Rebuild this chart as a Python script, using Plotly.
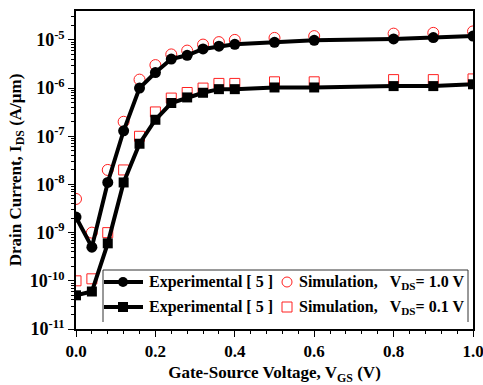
import plotly.graph_objects as go

vgs = [0.0, 0.04, 0.08, 0.12, 0.16, 0.2, 0.24, 0.28, 0.32, 0.36, 0.4, 0.5, 0.6, 0.8, 0.9, 1.0]

exp_vds10 = [2.1e-9, 5e-10, 1.1e-8, 1.3e-7, 1.0e-6, 2.1e-6, 4.0e-6, 4.8e-6, 6.5e-6, 7.4e-6,
             8.1e-6, 8.9e-6, 9.8e-6, 1.05e-5, 1.12e-5, 1.2e-5]
sim_vds10 = [5e-9, 1e-9, 2e-8, 2e-7, 1.5e-6, 3e-6, 5e-6, 6e-6, 8e-6, 9e-6,
             1e-5, 1.1e-5, 1.2e-5, 1.35e-5, 1.4e-5, 1.5e-5]
exp_vds01 = [5e-11, 6e-11, 6e-10, 1.1e-8, 7e-8, 2.2e-7, 4.9e-7, 6.4e-7, 8e-7, 9.5e-7,
             9.5e-7, 1.03e-6, 1.03e-6, 1.1e-6, 1.1e-6, 1.2e-6]
sim_vds01 = [1e-10, 1.1e-10, 1e-9, 2e-8, 1e-7, 3.2e-7, 6.2e-7, 8.1e-7, 1e-6, 1.25e-6,
             1.25e-6, 1.35e-6, 1.35e-6, 1.5e-6, 1.5e-6, 1.55e-6]

ytick_vals = [1e-11, 1e-10, 1e-9, 1e-8, 1e-7, 1e-6, 1e-5]
ytick_text = ["10<sup>-11</sup>", "10<sup>-10</sup>", "10<sup>-9</sup>", "10<sup>-8</sup>",
              "10<sup>-7</sup>", "10<sup>-6</sup>", "10<sup>-5</sup>"]

legend_exp = "Experimental [ 5 ]"
legend_sim = ["Simulation,&nbsp;&nbsp;&nbsp;V<sub>DS</sub>= 1.0 V",
              "Simulation,&nbsp;&nbsp;&nbsp;V<sub>DS</sub>= 0.1 V"]

W, H = 483, 385
ML, MR, MT, MB = 76, 10, 11, 56
PW, PH = W - ML - MR, H - MT - MB
FONT = "Liberation Serif"


def px(x):
    return (x - ML) / PW


def py(y):
    return (H - MB - y) / PH


fig = go.Figure()

fig.add_trace(go.Scatter(x=vgs, y=sim_vds10, mode="markers",
                         marker=dict(symbol="circle-open", size=11, color="#ff2020",
                                     line=dict(width=1))))
fig.add_trace(go.Scatter(x=vgs, y=sim_vds01, mode="markers",
                         marker=dict(symbol="square-open", size=10, color="#ff2020",
                                     line=dict(width=1))))
fig.add_trace(go.Scatter(x=vgs, y=exp_vds10, mode="lines+markers",
                         line=dict(color="black", width=4),
                         marker=dict(symbol="circle", size=11, color="black")))
fig.add_trace(go.Scatter(x=vgs, y=exp_vds01, mode="lines+markers",
                         line=dict(color="black", width=4),
                         marker=dict(symbol="square", size=10, color="black")))

shapes = []
annotations = []
# legend box (left, top, right edges)
lx0, lx1, ly0, ly1 = 103, 468, 270, 322
for (a, b, c, d) in [(lx0, ly0, lx1, ly0), (lx0, ly0, lx0, ly1), (lx1, ly0, lx1, ly1)]:
    shapes.append(dict(type="line", xref="paper", yref="paper",
                       x0=px(a), y0=py(b), x1=px(c), y1=py(d),
                       line=dict(color="#333", width=1)))

rows = [282, 307]
for i, ry in enumerate(rows):
    shapes.append(dict(type="line", xref="paper", yref="paper",
                       x0=px(104), y0=py(ry), x1=px(143), y1=py(ry),
                       line=dict(color="black", width=4)))
    r = 5
    shapes.append(dict(type="circle" if i == 0 else "rect", xref="paper", yref="paper",
                       x0=px(123 - r), y0=py(ry + r), x1=px(123 + r), y1=py(ry - r),
                       fillcolor="black", line=dict(color="black", width=0)))
    shapes.append(dict(type="circle" if i == 0 else "rect", xref="paper", yref="paper",
                       x0=px(287 - 5), y0=py(ry + 5), x1=px(287 + 5), y1=py(ry - 5),
                       fillcolor="rgba(0,0,0,0)", line=dict(color="#ff2020", width=1)))
    annotations.append(dict(xref="paper", yref="paper", x=px(147), y=py(ry),
                            xanchor="left", yanchor="middle", showarrow=False,
                            text="<b>" + legend_exp + "</b>",
                            font=dict(family=FONT, size=16, color="black")))
    annotations.append(dict(xref="paper", yref="paper", x=px(297), y=py(ry),
                            xanchor="left", yanchor="middle", showarrow=False,
                            text="<b>" + legend_sim[i] + "</b>",
                            font=dict(family=FONT, size=16, color="black")))

fig.update_layout(
    width=W, height=H,
    margin=dict(l=ML, r=MR, t=MT, b=MB, autoexpand=False),
    paper_bgcolor="white", plot_bgcolor="white",
    showlegend=False,
    shapes=shapes, annotations=annotations,
    font=dict(family=FONT, color="black"),
)

fig.update_xaxes(
    range=[0, 1.0], tickvals=[0, 0.2, 0.4, 0.6, 0.8, 1.0],
    ticktext=["<b>0.0</b>", "<b>0.2</b>", "<b>0.4</b>", "<b>0.6</b>", "<b>0.8</b>", "<b>1.0</b>"],
    ticks="outside", ticklen=6, tickwidth=1, tickcolor="black",
    minor=dict(ticks="outside", ticklen=3, dtick=0.04, tick0=0, tickcolor="black"),
    showline=True, linecolor="black", linewidth=1.5, mirror=True,
    showgrid=False, zeroline=False, automargin=False, ticklabeloverflow="allow",
    tickfont=dict(family=FONT, size=17),
    title=dict(text="<b>Gate-Source Voltage, V<sub>GS</sub> (V)</b>",
               font=dict(family=FONT, size=17), standoff=10),
)
fig.update_yaxes(
    type="log", range=[-11, -4.4],
    tickvals=ytick_vals, ticktext=["<b>" + t + "</b>" for t in ytick_text],
    ticks="outside", ticklen=6, tickwidth=1, tickcolor="black",
    minor=dict(ticks="outside", ticklen=3, dtick="D1", tickcolor="black"),
    showline=True, linecolor="black", linewidth=1.5, mirror=True,
    showgrid=False, zeroline=False, automargin=False, ticklabeloverflow="allow",
    tickfont=dict(family=FONT, size=18),
    title=dict(text="<b>Drain Current, I<sub>DS</sub> (A/μm)</b>",
               font=dict(family=FONT, size=17), standoff=4),
)

fig.write_html("out.html")
